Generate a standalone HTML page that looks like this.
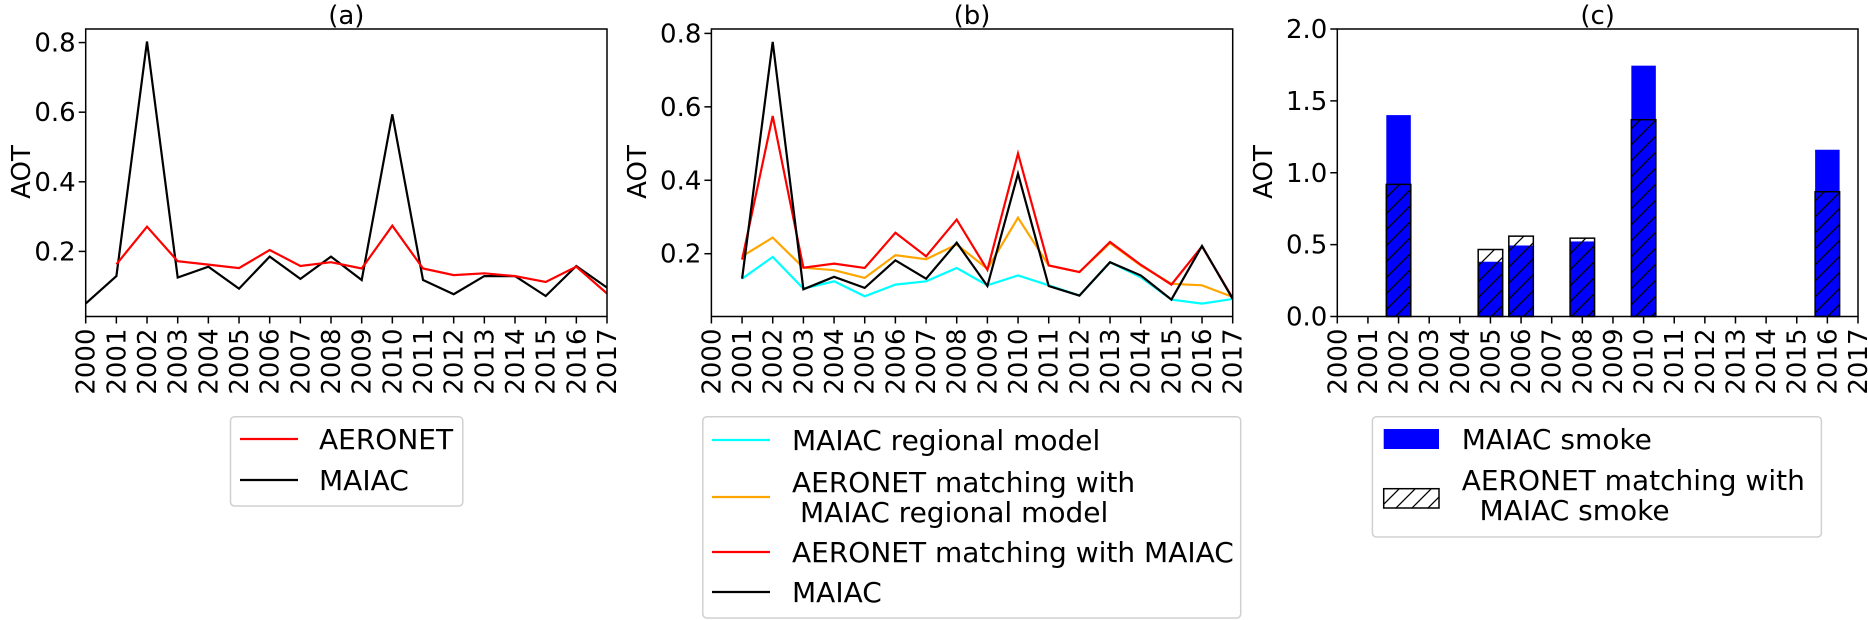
<!DOCTYPE html>
<html><head><meta charset="utf-8">
<style>
html,body{margin:0;padding:0;background:#fff;}
svg{display:block;font-family:"DejaVu Sans","Liberation Sans",sans-serif;}
</style></head>
<body>
<svg id="fig" width="1868" height="620" viewBox="0 0 1868 620" xmlns="http://www.w3.org/2000/svg">
<defs>
<pattern id="hatch" patternUnits="userSpaceOnUse" width="16" height="16">
<path d="M-4,4 L4,-4 M0,16 L16,0 M12,20 L20,12" stroke="#000" stroke-width="1.3"/>
</pattern>
</defs>
</svg>
<script>
const years = [2000,2001,2002,2003,2004,2005,2006,2007,2008,2009,2010,2011,2012,2013,2014,2015,2016,2017];
// Panel (a)
const aMaiac = [0.050,0.129,0.803,0.125,0.156,0.093,0.185,0.121,0.185,0.118,0.594,0.118,0.077,0.129,0.129,0.072,0.158,0.096];
const aAeronet = [null,0.163,0.271,0.172,0.162,0.152,0.204,0.158,0.169,0.151,0.274,0.151,0.132,0.137,0.129,0.112,0.156,0.079];
const aTicks = [0.2,0.4,0.6,0.8];
// Panel (b)
const bRegional = [null,0.132,0.191,0.105,0.125,0.084,0.116,0.125,0.161,0.114,0.141,0.114,0.086,0.177,0.136,0.075,0.064,0.077];
const bAeronetRegional = [null,0.193,0.244,0.162,0.155,0.134,0.196,0.185,0.225,0.159,0.298,0.168,0.150,0.229,0.168,0.118,0.114,0.082];
const bAeronetMaiac = [null,0.184,0.575,0.162,0.173,0.161,0.257,0.193,0.293,0.156,0.473,0.168,0.150,0.232,0.170,0.116,0.220,0.079];
const bMaiac = [null,0.132,0.777,0.103,0.137,0.107,0.182,0.132,0.230,0.112,0.418,0.112,0.086,0.177,0.141,0.075,0.221,0.077];
const bTicks = [0.2,0.4,0.6,0.8];
// Panel (c)
const cYears = [2002,2005,2006,2008,2010,2016];
const cSmoke = [1.401,0.381,0.494,0.522,1.745,1.160];
const cAeronet = [0.919,0.466,0.559,0.545,1.369,0.868];
const cTicks = [0.0,0.5,1.0,1.5,2.0];

const NS = "http://www.w3.org/2000/svg";
const svg = document.getElementById('fig');
function el(tag, attrs, parent, text){
  const e = document.createElementNS(NS, tag);
  for (const k in attrs) e.setAttribute(k, attrs[k]);
  if (text !== undefined) e.textContent = text;
  (parent||svg).appendChild(e);
  return e;
}
const TOP=29, BOT=316.5;
function makeAxes(name, left, right, ymin, ymax, ticks, fmt, title, aotX){
  const g = el('g', {});
  
  
  const xs = y => left + (y-2000)/17*(right-left);
  const ys = v => BOT - (v-ymin)/(ymax-ymin)*(BOT-TOP);
  ticks.forEach(t=>{
    const y = ys(t);
    const tk = el('line',{x1:left-7,x2:left,y1:y,y2:y,stroke:'#000','stroke-width':1.5},g);
    
    
    const lb = el('text',{x:left-10,y:y+9,'text-anchor':'end','font-size':26},g,fmt(t));
    
    
  });
  years.forEach(yr=>{
    const x = xs(yr);
    const tk = el('line',{x1:x,x2:x,y1:BOT,y2:BOT+7,stroke:'#000','stroke-width':1.5},g);
    
    
    const lb = el('text',{x:0,y:0,'text-anchor':'end','font-size':26,transform:`translate(${x+9},${BOT+12}) rotate(-90)`},g,String(yr));
    
    
  });
  const t = el('text',{x:(left+right)/2,y:24,'text-anchor':'middle','font-size':26},g,title);
  
  
  const a = el('text',{x:0,y:0,'text-anchor':'middle','font-size':26,transform:`translate(${aotX},${172}) rotate(-90)`},g,'AOT');
  
  
  return {g, xs, ys, left, right};
}
function frame(ax){
  const r = el('rect',{x:ax.left,y:TOP,width:ax.right-ax.left,height:BOT-TOP,fill:'none',stroke:'#000','stroke-width':1.5},ax.g);
  
  
}
function line(ax, data, color, name){
  let d='';
  data.forEach((v,i)=>{ if(v===null) return; d += (d?'L':'M') + ax.xs(years[i]).toFixed(1)+','+ax.ys(v).toFixed(1); });
  const p = el('path',{d, fill:'none', stroke:color,'stroke-width':2.2,'stroke-linejoin':'miter'},ax.g);
  
  
}
const f1 = v=>v.toFixed(1);
const A = makeAxes('panel-a',85.7,607,0.013,0.839,aTicks,f1,'(a)',30);
line(A,aMaiac,'#000','line-maiac');
line(A,aAeronet,'#ff0000','line-aeronet');
frame(A);
const B = makeAxes('panel-b',711.4,1232.7,0.029,0.812,bTicks,f1,'(b)',646);
line(B,bRegional,'#00ffff','line-maiac-regional');
line(B,bAeronetRegional,'#ffa500','line-aeronet-regional');
line(B,bAeronetMaiac,'#ff0000','line-aeronet-maiac');
line(B,bMaiac,'#000','line-maiac');
frame(B);
const C = makeAxes('panel-c',1337.3,1858,0,2.0,cTicks,f1,'(c)',1272);
const bw = 0.8*(C.right-C.left)/17;
cYears.forEach((yr,i)=>{
  const x = C.xs(yr)-bw/2;
  const b = el('rect',{x, y:C.ys(cSmoke[i]), width:bw, height:C.ys(0)-C.ys(cSmoke[i]), fill:'#0000ff'},C.g);
  
  
});
cYears.forEach((yr,i)=>{
  const x = C.xs(yr)-bw/2;
  const b = el('rect',{x, y:C.ys(cAeronet[i]), width:bw, height:C.ys(0)-C.ys(cAeronet[i]), fill:'url(#hatch)', stroke:'#000','stroke-width':1.5},C.g);
  
  
});
frame(C);

function legendBox(name,x,y,w,h){
  const g = el('g',{});
  
  
  el('rect',{x,y,width:w,height:h,rx:4,fill:'#fff',stroke:'#d0d0d0','stroke-width':1.5},g);
  return g;
}
function legLine(g,x,y,color,lines,tx){
  el('line',{x1:x,x2:x+58,y1:y,y2:y,stroke:color,'stroke-width':2.2},g);
  lines.forEach((t,k)=>{
    const n = el('text',{x:tx + (k>0?8:0),y:y+10+(k-(lines.length-1)/2)*30,'font-size':28},g,t);
    
    
  });
}
const LA = legendBox('legend-a',230.5,416.7,232.3,89.3);
legLine(LA,240,439,'#ff0000',['AERONET'],319);
legLine(LA,240,480,'#000',['MAIAC'],319);

const LB = legendBox('legend-b',702.8,416.7,537.9,201.3);
legLine(LB,712,440,'#00ffff',['MAIAC regional model'],792);
legLine(LB,712,497,'#ffa500',['AERONET matching with','MAIAC regional model'],792);
legLine(LB,712,552,'#ff0000',['AERONET matching with MAIAC'],792);
legLine(LB,712,592,'#000',['MAIAC'],792);

const LC = legendBox('legend-c',1372.4,416.7,449,120.3);
el('rect',{x:1383.7,y:429,width:55.3,height:20,fill:'#0000ff'},LC);
let tc = el('text',{x:1461.7,y:449,'font-size':28},LC,'MAIAC smoke');


el('rect',{x:1383.7,y:488.7,width:55.3,height:19.3,fill:'url(#hatch)',stroke:'#000','stroke-width':1.5},LC);
tc = el('text',{x:1461.7,y:490,'font-size':28},LC,'AERONET matching with');


tc = el('text',{x:1479.5,y:520,'font-size':28},LC,'MAIAC smoke');


</script>
</body></html>
